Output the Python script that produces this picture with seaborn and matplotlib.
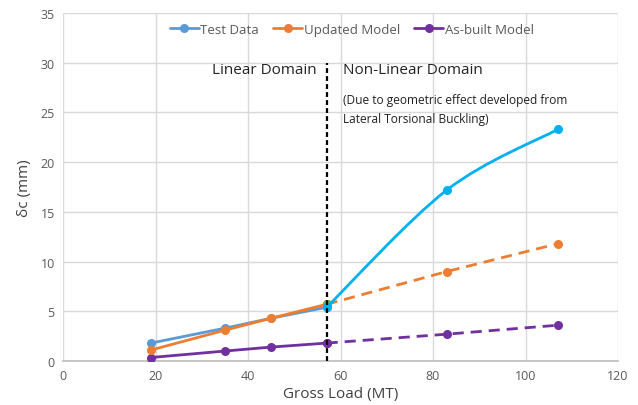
import numpy as np
import pandas as pd
import matplotlib
matplotlib.use("Agg")
import matplotlib.pyplot as plt
from matplotlib.path import Path
from matplotlib.patches import PathPatch
from matplotlib.lines import Line2D
import seaborn as sns

# Gross load steps (MT)
load = [19, 35, 45, 57, 83, 107]
# Mid-span deflection (mm)
test_data = [1.8, 3.3, 4.3, 5.4, 17.2, 23.3]
updated_model = [1.1, 3.1, 4.3, 5.7, 9.0, 11.8]
as_built_model = [0.35, 1.0, 1.4, 1.8, 2.7, 3.6]

boundary_load = 57  # end of the linear domain

C_TEST = "#5B9BD5"
C_TEST_NL = "#00B0F0"
C_UPD = "#ED7D31"
C_ASB = "#7030A0"
C_GREEN = "#70AD47"

sns.set_theme(style="white")
plt.rcParams["font.family"] = ["Open Sans", "DejaVu Sans"]

fig = plt.figure(figsize=(6.38, 4.06), dpi=100)
ax = fig.add_axes([63 / 638, 1 - 362 / 406, 555 / 638, 348 / 406])

df = pd.DataFrame({"load": load, "test": test_data,
                   "upd": updated_model, "asb": as_built_model})
lin = df[df["load"] <= boundary_load]
nl = df[df["load"] >= boundary_load]

lw = 2.0
ms = 6.5

# As-built model
sns.lineplot(data=lin, x="load", y="asb", ax=ax, color=C_ASB, lw=lw,
             marker="o", markersize=ms, markeredgewidth=0, zorder=3)
sns.lineplot(data=nl, x="load", y="asb", ax=ax, color=C_ASB, lw=lw,
             linestyle=(0, (4, 2.5)), marker="o", markersize=ms,
             markeredgewidth=0, zorder=3)

# Updated model
sns.lineplot(data=nl, x="load", y="upd", ax=ax, color=C_UPD, lw=lw,
             linestyle=(0, (4, 2.5)), marker="o", markersize=ms,
             markeredgewidth=0, zorder=3)

# Test data, linear part
sns.lineplot(data=lin, x="load", y="test", ax=ax, color=C_TEST, lw=lw,
             marker="o", markersize=ms, markeredgewidth=0, zorder=4)
sns.lineplot(data=lin, x="load", y="upd", ax=ax, color=C_UPD, lw=lw,
             marker="o", markersize=ms, markeredgewidth=0, zorder=4)
ax.plot([boundary_load], [lin["upd"].iloc[-1]], "o", color=C_GREEN,
        markersize=ms, markeredgewidth=0, zorder=5)

# Test data, non-linear part drawn as a smoothed Bezier curve
px = nl["load"].to_numpy(float)
py = nl["test"].to_numpy(float)
pts = np.column_stack([px, py])
verts = [tuple(pts[0])]
codes = [Path.MOVETO]
n = len(pts)
for i in range(n - 1):
    p0 = pts[i - 1] if i > 0 else pts[i]
    p1, p2 = pts[i], pts[i + 1]
    p3 = pts[i + 2] if i + 2 < n else pts[i + 1]
    c1 = p1 + (p2 - p0) / 6.0
    c2 = p2 - (p3 - p1) / 6.0
    verts += [tuple(c1), tuple(c2), tuple(p2)]
    codes += [Path.CURVE4] * 3
ax.add_patch(PathPatch(Path(verts, codes), facecolor="none",
                       edgecolor=C_TEST_NL, lw=lw, zorder=5))
ax.plot(px, py, "o", color=C_TEST_NL, markersize=ms,
        markeredgewidth=0, zorder=6)

# Domain boundary
ax.plot([boundary_load, boundary_load], [0, 30], color="black", lw=1.6,
        linestyle=(0, (2.2, 1.4)), zorder=7)

ax.text(32.3, 29.3, "Linear Domain", fontsize=11, color="#222222",
        va="center", ha="left")
ax.text(60.5, 29.3, "Non-Linear Domain", fontsize=11, color="#222222",
        va="center", ha="left")
ax.text(60.5, 26.3, "(Due to geometric effect developed from",
        fontsize=8.6, color="#222222", va="center", ha="left")
ax.text(60.5, 24.4, "Lateral Torsional Buckling)",
        fontsize=8.6, color="#222222", va="center", ha="left")

ax.set_xlim(0, 120)
ax.set_ylim(0, 35)
ax.set_xticks(range(0, 121, 20))
ax.set_yticks(range(0, 36, 5))
ax.grid(True, color="#D9D9D9", lw=1)
ax.set_axisbelow(True)
for side in ["top", "right", "left"]:
    ax.spines[side].set_visible(False)
ax.spines["bottom"].set_color("#BFBFBF")
ax.tick_params(axis="both", length=0, labelsize=9, colors="#595959", pad=6)

ax.set_xlabel("Gross Load (MT)", fontsize=11, color="#404040", labelpad=3)
ax.set_ylabel("δc (mm)", fontsize=11, color="#404040", labelpad=6)

handles = [
    Line2D([], [], color=C_TEST, lw=lw, marker="o", markersize=ms,
           markeredgewidth=0),
    Line2D([], [], color=C_UPD, lw=lw, marker="o", markersize=ms,
           markeredgewidth=0),
    Line2D([], [], color=C_ASB, lw=lw, marker="o", markersize=ms,
           markeredgewidth=0),
]
leg = ax.legend(handles, ["Test Data", "Updated Model", "As-built Model"],
                loc="center", bbox_to_anchor=(0.52, 0.954), ncol=3,
                frameon=False, fontsize=9.5, handlelength=2.2,
                handletextpad=0.1, columnspacing=1.1)
for t in leg.get_texts():
    t.set_color("#595959")

fig.savefig("out.png", dpi=100, facecolor="white")
